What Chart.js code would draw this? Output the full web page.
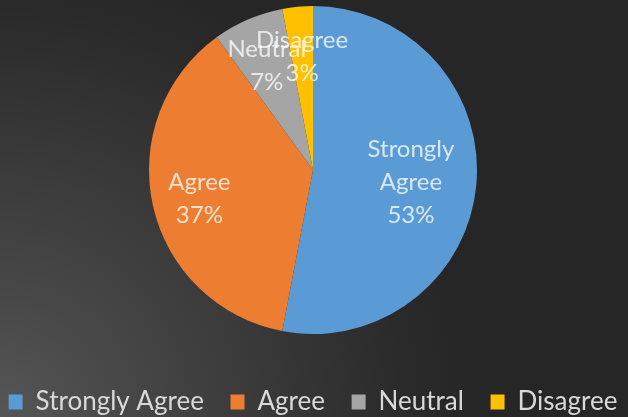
<!DOCTYPE html>
<html>
<head>
<meta charset="utf-8">
<script src="https://cdn.jsdelivr.net/npm/chart.js@4/dist/chart.umd.min.js"></script>
<style>
  html, body { margin: 0; padding: 0; }
  body {
    width: 628px; height: 417px; overflow: hidden;
    background: radial-gradient(circle 480px at 0px 417px, #565656 0%, #484848 25%, #393939 55%, #2a2a2a 85%, #262626 100%);
  }
</style>
</head>
<body>
<canvas id="c" width="628" height="417"></canvas>
<script>
const categories = ['Strongly Agree', 'Agree', 'Neutral', 'Disagree'];
const percentValues = [53, 37, 7, 3];
const sliceColors = ['#5b9bd5', '#ed7d31', '#a5a5a5', '#ffc000'];
const labelLines = [['Strongly', 'Agree'], ['Agree'], ['Neutral'], ['Disagree']];

const FONT = 'Lato, "Open Sans", sans-serif';

const sliceLabels = {
  id: 'sliceLabels',
  afterDatasetsDraw(chart) {
    const ctx = chart.ctx;
    const meta = chart.getDatasetMeta(0);
    const fractions = [0.6, 0.71, 0.71, 0.71];
    const lineH = 33;
    const dy = 3;
    ctx.save();
    ctx.font = '24px ' + FONT;
    ctx.fillStyle = 'rgba(255,255,255,0.76)';
    ctx.textAlign = 'center';
    ctx.textBaseline = 'middle';
    meta.data.forEach((arc, i) => {
      const p = arc.getProps(['x', 'y', 'startAngle', 'endAngle', 'outerRadius'], true);
      const mid = (p.startAngle + p.endAngle) / 2;
      const r = p.outerRadius * fractions[i];
      const cx = p.x + Math.cos(mid) * r;
      const cy = p.y + Math.sin(mid) * r + dy;
      const lines = labelLines[i].concat([percentValues[i] + '%']);
      const y0 = cy - (lines.length - 1) * lineH / 2;
      lines.forEach((t, k) => ctx.fillText(t, cx, y0 + k * lineH));
    });
    ctx.restore();
  }
};

new Chart(document.getElementById('c'), {
  type: 'pie',
  data: {
    labels: categories,
    datasets: [{
      data: percentValues,
      backgroundColor: sliceColors,
      borderWidth: 0
    }]
  },
  options: {
    responsive: false,
    animation: false,
    layout: { padding: { top: 6, bottom: -8, left: 0, right: 2 } },
    plugins: {
      tooltip: { enabled: false },
      legend: {
        position: 'bottom',
        title: { display: true, text: '', font: { size: 10 }, padding: { top: 43, bottom: 0 } },
        labels: {
          color: '#d9d9d9',
          font: { family: FONT, size: 26 },
          boxWidth: 14,
          boxHeight: 15,
          padding: 0,
          generateLabels(chart) {
            return categories.map((name, i) => ({
              text: i < categories.length - 1 ? name + '    ' : name,
              fillStyle: sliceColors[i],
              strokeStyle: sliceColors[i],
              lineWidth: 0,
              fontColor: '#d9d9d9',
              hidden: false,
              index: i
            }));
          }
        }
      }
    }
  },
  plugins: [sliceLabels]
});
</script>
</body>
</html>
